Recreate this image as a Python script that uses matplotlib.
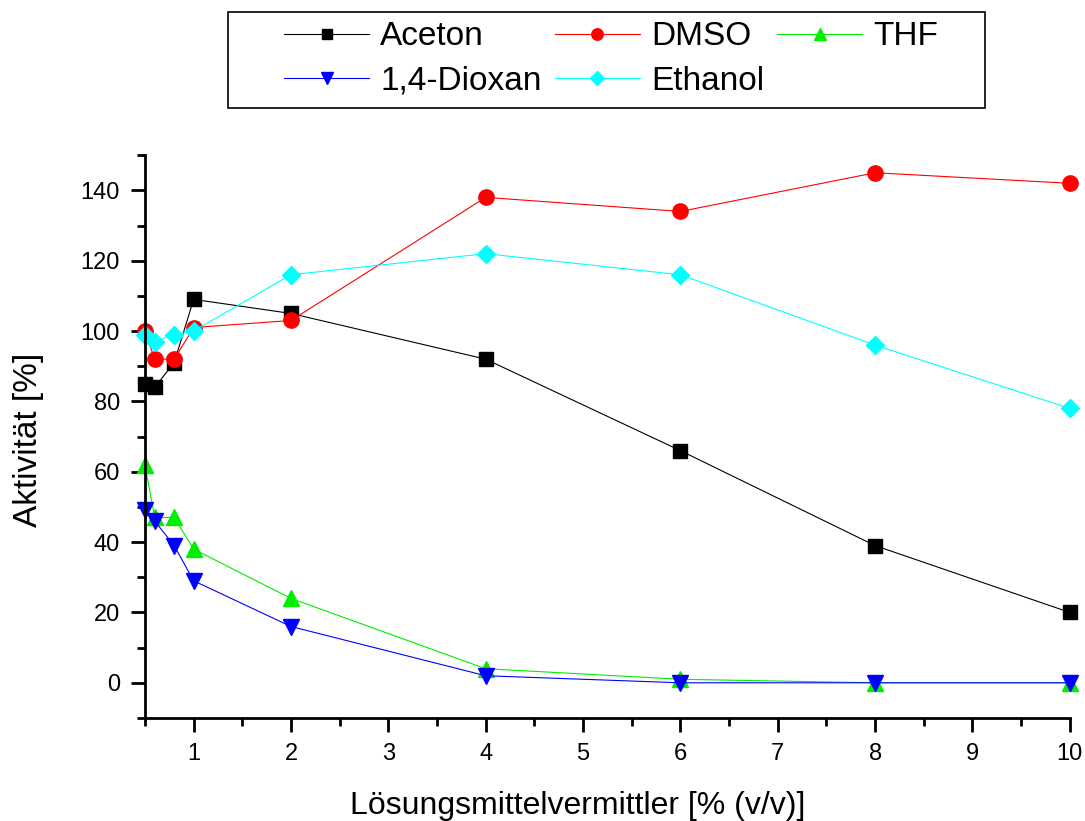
import matplotlib
matplotlib.use("Agg")
import matplotlib.pyplot as plt
from matplotlib.patches import Rectangle
from matplotlib.ticker import MultipleLocator

plt.rcParams['font.family'] = ['Liberation Sans', 'DejaVu Sans']

# Data
konz = [0.5, 0.6, 0.8, 1, 2, 4, 6, 8, 10]
aceton = [85, 84, 91, 109, 105, 92, 66, 39, 20]
dmso = [100, 92, 92, 101, 103, 138, 134, 145, 142]
thf = [62, 47, 47, 38, 24, 4, 1, 0, 0]
dioxan = [49, 46, 39, 29, 16, 2, 0, 0, 0]
ethanol = [99, 97, 99, 100, 116, 122, 116, 96, 78]

fig = plt.figure(figsize=(10.85, 8.21), dpi=100)
ax = fig.add_axes([0.1336, 0.1255, 0.8524, 0.6855])

lw = 0.8
h_ac, = ax.plot(konz, aceton, color='black', marker='s', markersize=10, lw=lw, label='Aceton', clip_on=False)
h_dm, = ax.plot(konz, dmso, color='red', marker='o', markersize=11, lw=lw, label='DMSO', clip_on=False)
h_th, = ax.plot(konz, thf, color='#00ee00', marker='^', markersize=11, lw=lw, label='THF', clip_on=False)
h_di, = ax.plot(konz, dioxan, color='blue', marker='v', markersize=11, lw=lw, label='1,4-Dioxan', clip_on=False)
h_et, = ax.plot(konz, ethanol, color='cyan', marker='D', markersize=9, lw=lw, label='Ethanol', clip_on=False)

ax.set_xlim(0.5, 10)
ax.set_ylim(-10, 150)
ax.xaxis.set_minor_locator(MultipleLocator(0.5))
ax.yaxis.set_minor_locator(MultipleLocator(10))
ax.set_xticks(range(1, 11))
ax.set_yticks(range(0, 141, 20))

for side in ['top', 'right']:
    ax.spines[side].set_visible(False)
for side in ['left', 'bottom']:
    ax.spines[side].set_linewidth(2)

ax.tick_params(which='major', direction='out', length=10, width=2, labelsize=17, pad=8)
ax.tick_params(which='minor', direction='out', length=6, width=2)

ax.set_xlabel('Lösungsmittelvermittler [% (v/v)]', fontsize=23, va='baseline')
ax.xaxis.set_label_coords(0.468, -0.170)
ax.set_ylabel('Aktivität [%]', fontsize=24, va='center')
ax.yaxis.set_label_coords(-0.126, 0.494)

# order so rows read Aceton, DMSO, THF / 1,4-Dioxan, Ethanol
handles = [h_ac, h_di, h_dm, h_et, h_th]
leg = fig.legend(handles=handles, labels=[h.get_label() for h in handles],
                 ncol=3, loc='upper left', bbox_to_anchor=(0.2618, 0.974),
                 fontsize=24, numpoints=1, handlelength=2.55, handletextpad=0.33,
                 columnspacing=0.4, labelspacing=0.4, borderpad=0, borderaxespad=0,
                 frameon=False, markerscale=0.75)

# legend frame, Origin style (wider than the entries)
fig.patches.append(Rectangle((0.2101, 0.8685), 0.6977, 0.1169, transform=fig.transFigure,
                             fill=False, edgecolor='black', linewidth=1.2))

fig.savefig('out.png', dpi=100)
